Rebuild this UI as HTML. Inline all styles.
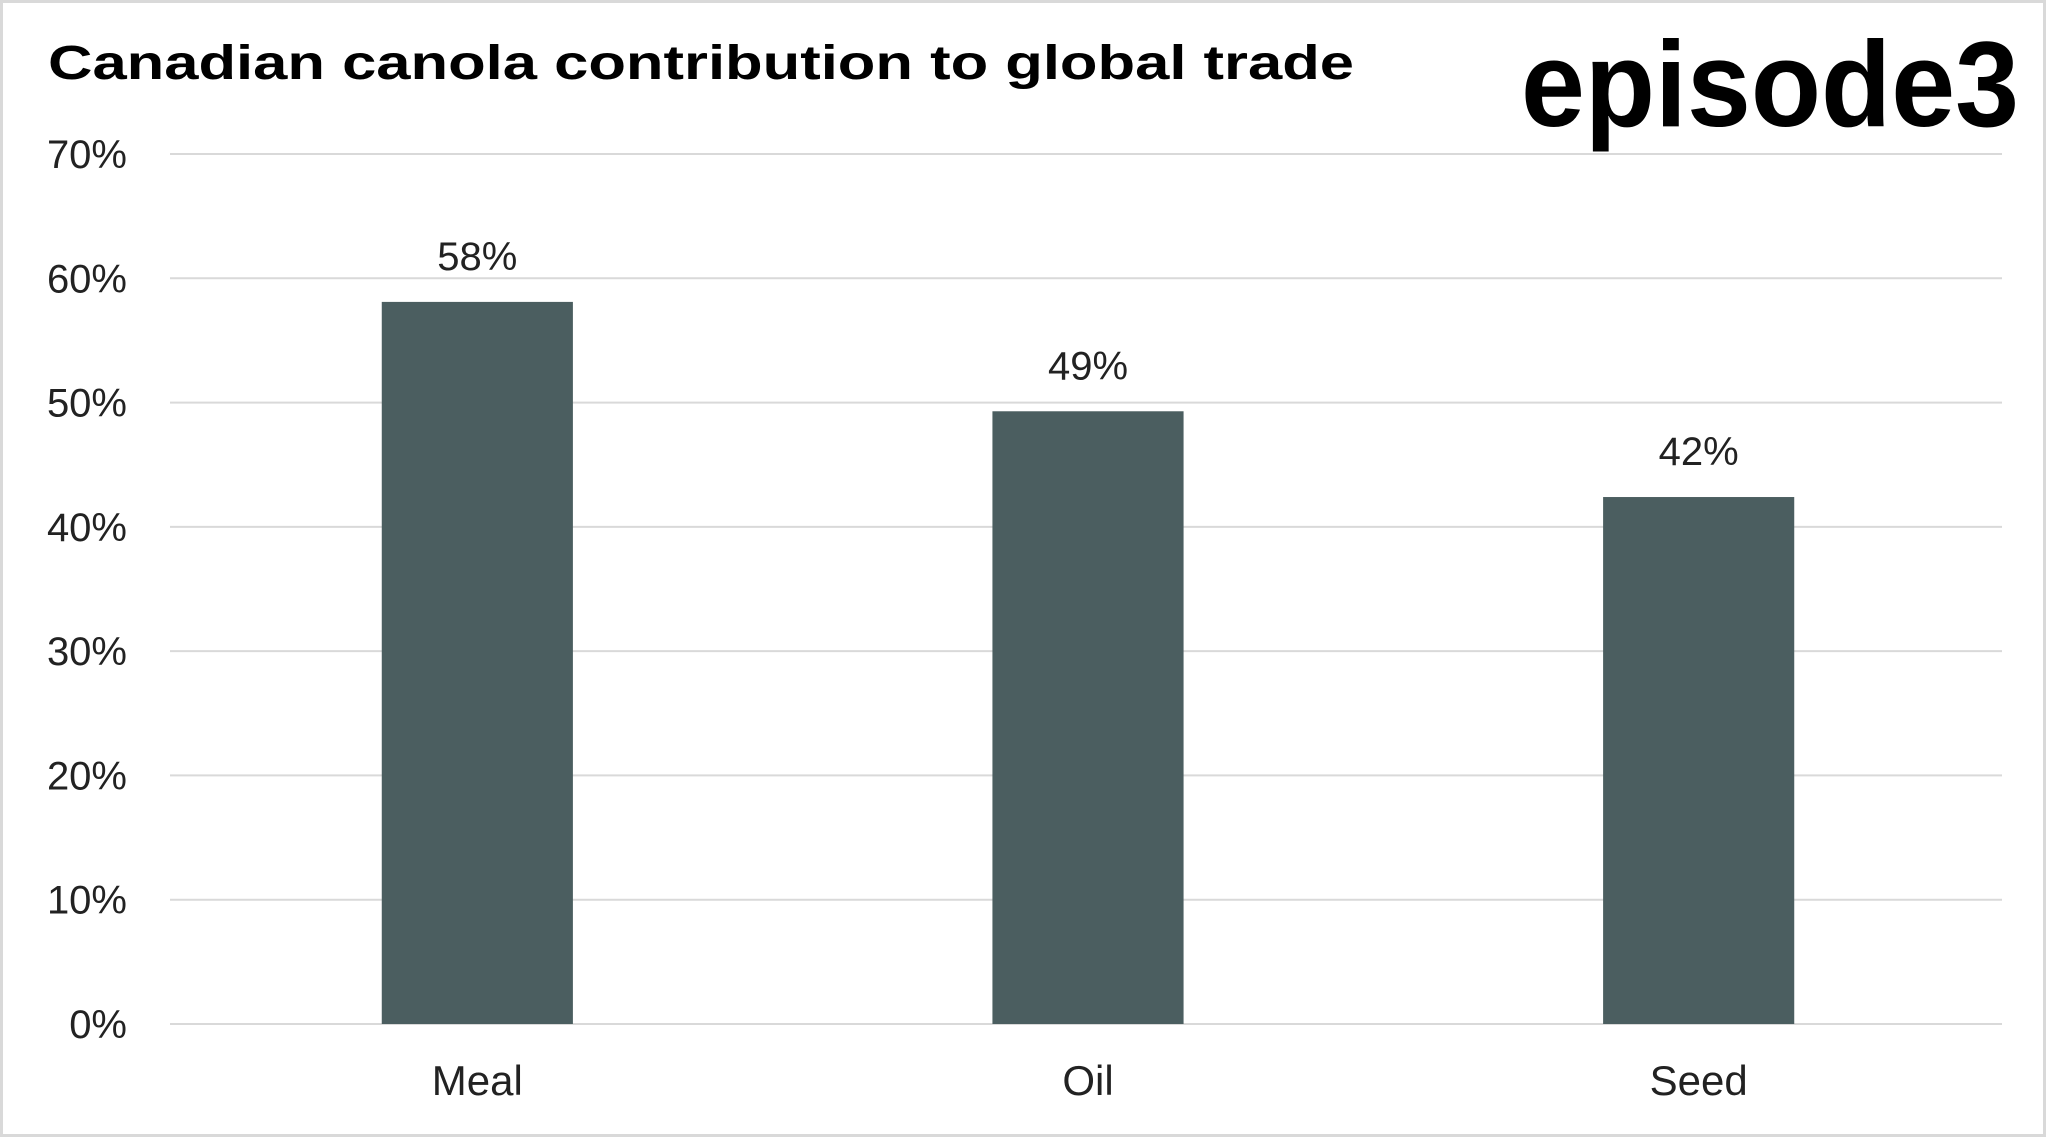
<!DOCTYPE html>
<html><head><meta charset="utf-8"><style>
html,body{margin:0;padding:0;background:#fff}
svg{display:block}
text{font-family:"Liberation Sans",sans-serif}
</style></head><body>
<svg id="chart" width="2048" height="1139" viewBox="0 0 2048 1139" xmlns="http://www.w3.org/2000/svg">
<rect x="1.5" y="1.5" width="2043" height="1134" fill="#fff" stroke="#d9d9d9" stroke-width="3"/>
<text x="48" y="79" font-size="48" font-weight="bold" fill="#000" textLength="1306" lengthAdjust="spacingAndGlyphs">Canadian canola contribution to global trade</text>
<text x="1521" y="126" font-size="122" font-weight="bold" fill="#000" textLength="498" lengthAdjust="spacingAndGlyphs">episode3</text>
<g id="grid"></g><g id="bars"></g>
</svg>
<script>
const categories = ["Meal","Oil","Seed"];
const values = [58.1, 49.3, 42.4];
const valueLabels = ["58%","49%","42%"];
const ticks = [0,10,20,30,40,50,60,70];
const tickLabels = ["0%","10%","20%","30%","40%","50%","60%","70%"];
const NS="http://www.w3.org/2000/svg";
const x0=170,x1=2002,yTop=154,yBot=1024,yMax=70;
const y=v=>yBot-(v/yMax)*(yBot-yTop);
const band=(x1-x0)/categories.length;
const xc=i=>x0+band*(i+0.5);
function mk(tag,attrs,parent){const e=document.createElementNS(NS,tag);for(const k in attrs)e.setAttribute(k,attrs[k]);parent.appendChild(e);return e;}
const grid=document.getElementById('grid'),bars=document.getElementById('bars');
ticks.forEach((t,i)=>{
  const l=mk('line',{x1:x0,x2:x1,y1:y(t),y2:y(t),stroke:'#d9d9d9','stroke-width':2},grid);
  
  
  const tx=mk('text',{x:127,y:y(t)+14,'font-size':40,'text-anchor':'end',fill:'#222'},grid);
  tx.textContent=tickLabels[i];
  
  
});
const bw=band*0.313;
categories.forEach((c,i)=>{
  const r=mk('rect',{x:xc(i)-bw/2+2,y:y(values[i]),width:bw,height:yBot-y(values[i]),fill:'#4b5e60'},bars);
  
  
  const v=mk('text',{x:xc(i)+2,y:y(values[i])-32,'font-size':40,'text-anchor':'middle',fill:'#222'},bars);
  v.textContent=valueLabels[i];
  
  
  const cl=mk('text',{x:xc(i)+2,y:1095,'font-size':42,'text-anchor':'middle',fill:'#222'},bars);
  cl.textContent=c;
  
  
});
</script>
</body></html>
